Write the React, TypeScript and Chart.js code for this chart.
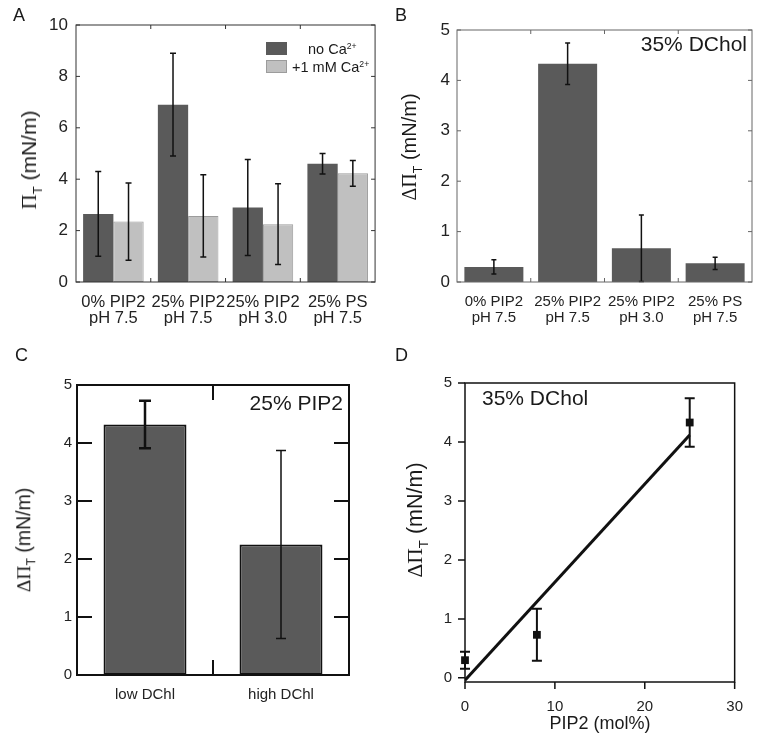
import { useEffect, useRef } from "react";
import { Chart, ChartConfiguration, registerables } from "chart.js";

Chart.register(...registerables);

const SANS = "'Liberation Sans', Arial, sans-serif";
const SERIF = "'Liberation Serif', 'Times New Roman', serif";
Chart.defaults.font.family = SANS;
Chart.defaults.color = "#222";

const DARK = "#5a5a5a";
const LIGHT = "#c0c0c0";

// Panel A - surface pressure with / without calcium
const groupLabels = [
  ["0% PIP2", "pH 7.5"],
  ["25% PIP2", "pH 7.5"],
  ["25% PIP2", "pH 3.0"],
  ["25% PS", "pH 7.5"],
];
const noCaValues = [2.65, 6.9, 2.9, 4.6];
const noCaErrors = [1.65, 2.0, 1.87, 0.4];
const caValues = [2.35, 2.57, 2.25, 4.23];
const caErrors = [1.5, 1.6, 1.57, 0.5];
const yTicksA = [0, 2, 4, 6, 8, 10];

// Panel B - 35% DChol
const dcholValues = [0.3, 4.33, 0.67, 0.37];
const dcholErrors = [0.14, 0.41, 0.66, 0.12];
const yTicksB = [0, 1, 2, 3, 4, 5];

// Panel C - 25% PIP2
const cholLabels = ["low DChl", "high DChl"];
const cholValues = [4.32, 2.25];
const cholErrors = [0.41, 1.62];
const yTicksC = [0, 1, 2, 3, 4, 5];

// Panel D - PIP2 dependence
const pip2Mol = [0, 8, 25];
const pip2Delta = [0.3, 0.73, 4.33];
const pip2Errors = [0.145, 0.44, 0.41];
const fitX = [0, 25];
const fitY = [-0.04, 4.12];
const xTicksD = [0, 10, 20, 30];
const yTicksD = [0, 1, 2, 3, 4, 5];

const pick = (v: any, j: number, d: number) =>
  Array.isArray(v) ? v[j] : v ?? d;

// draws vertical error bars from dataset.errors
const errorBars = {
  id: "errorBars",
  afterDatasetsDraw(chart: Chart) {
    const { ctx } = chart;
    const yScale = chart.scales.y;
    chart.data.datasets.forEach((ds: any, i) => {
      if (!ds.errors) return;
      const meta = chart.getDatasetMeta(i);
      meta.data.forEach((el: any, j) => {
        const raw = ds.data[j];
        const v = typeof raw === "number" ? raw : raw.y;
        const e = ds.errors[j];
        const top = yScale.getPixelForValue(v + e);
        const bot = yScale.getPixelForValue(v - e);
        const cap = pick(ds.capHalf, j, 3);
        ctx.save();
        ctx.strokeStyle = "#111";
        ctx.lineWidth = pick(ds.errorWidth, j, 1.5);
        ctx.beginPath();
        ctx.moveTo(el.x, top);
        ctx.lineTo(el.x, bot);
        ctx.moveTo(el.x - cap, top);
        ctx.lineTo(el.x + cap, top);
        ctx.moveTo(el.x - cap, bot);
        ctx.lineTo(el.x + cap, bot);
        ctx.stroke();
        ctx.restore();
      });
    });
  },
};

// box around the plot with inward / outward tick marks
const frame = {
  id: "frame",
  afterDraw(chart: Chart, _args: any, opts: any) {
    const { ctx, chartArea: a } = chart;
    const xs: any = chart.scales.x;
    const ys: any = chart.scales.y;
    ctx.save();
    ctx.strokeStyle = opts.color;
    ctx.lineWidth = opts.width;
    ctx.strokeRect(a.left, a.top, a.right - a.left, a.bottom - a.top);
    ctx.beginPath();
    const yPix = ys.ticks.map((t: any) => ys.getPixelForValue(t.value));
    if (opts.yIn) {
      yPix.forEach((p: number) => {
        ctx.moveTo(a.left, p);
        ctx.lineTo(a.left + opts.yIn, p);
        ctx.moveTo(a.right, p);
        ctx.lineTo(a.right - opts.yIn, p);
      });
    }
    if (opts.yOut) {
      yPix.forEach((p: number) => {
        ctx.moveTo(a.left, p);
        ctx.lineTo(a.left - opts.yOut, p);
      });
    }
    if (opts.xIn) {
      for (let i = 0; i < xs.ticks.length - 1; i++) {
        const p = (xs.getPixelForValue(i) + xs.getPixelForValue(i + 1)) / 2;
        ctx.moveTo(p, a.top);
        ctx.lineTo(p, a.top + opts.xIn);
        ctx.moveTo(p, a.bottom);
        ctx.lineTo(p, a.bottom - opts.xIn);
      }
    }
    if (opts.xOut) {
      xs.ticks.forEach((t: any) => {
        const p = xs.getPixelForValue(t.value);
        ctx.moveTo(p, a.bottom);
        ctx.lineTo(p, a.bottom + opts.xOut);
      });
    }
    ctx.stroke();
    ctx.restore();
  },
};

const noGrid = { display: false, drawTicks: false };

function useChart(build: () => ChartConfiguration) {
  const canvasRef = useRef<HTMLCanvasElement>(null);
  const chartRef = useRef<Chart | null>(null);
  useEffect(() => {
    if (!canvasRef.current) return;
    const ctx = canvasRef.current.getContext("2d");
    if (!ctx) return;
    if (chartRef.current) chartRef.current.destroy();
    chartRef.current = new Chart(ctx, build());
    return () => {
      if (chartRef.current) {
        chartRef.current.destroy();
        chartRef.current = null;
      }
    };
  }, []);
  return canvasRef;
}

function CalciumChart() {
  const ref = useChart(() => ({
    type: "bar",
    data: {
      labels: groupLabels,
      datasets: [
        {
          label: "no Ca2+",
          data: noCaValues,
          errors: noCaErrors,
          backgroundColor: DARK,
          borderWidth: 0,
          capHalf: 3,
        } as any,
        {
          label: "+1 mM Ca2+",
          data: caValues,
          errors: caErrors,
          backgroundColor: LIGHT,
          borderColor: "#9c9c9c",
          borderWidth: 1,
          borderSkipped: false,
          capHalf: 3,
        } as any,
      ],
    },
    options: {
      responsive: false,
      animation: false,
      layout: { padding: { left: 0, right: 4, top: 25, bottom: 0 } },
      datasets: { bar: { categoryPercentage: 0.81, barPercentage: 1 } },
      scales: {
        x: {
          grid: noGrid,
          border: { display: false },
          ticks: { padding: 12, autoSkip: false, maxRotation: 0, font: { size: 16.5, lineHeight: 1 } },
          afterFit: (s: any) => { s.height = 48; },
        },
        y: {
          min: 0,
          max: 10,
          grid: noGrid,
          border: { display: false },
          ticks: { padding: 8, font: { size: 17 } },
          afterBuildTicks: (s: any) => { s.ticks = yTicksA.map((value) => ({ value })); },
          afterFit: (s: any) => { s.width = 76; },
        },
      },
      plugins: {
        legend: { display: false },
        tooltip: { enabled: false },
        frame: { color: "#333", width: 1, yIn: 4, xIn: 4 },
      } as any,
    },
    plugins: [errorBars, frame],
  }));
  return <canvas ref={ref} width={380} height={330} />;
}

function DcholChart() {
  const ref = useChart(() => ({
    type: "bar",
    data: {
      labels: groupLabels,
      datasets: [
        {
          label: "35% DChol",
          data: dcholValues,
          errors: dcholErrors,
          backgroundColor: DARK,
          borderWidth: 0,
          capHalf: 2.5,
        } as any,
      ],
    },
    options: {
      responsive: false,
      animation: false,
      layout: { padding: { left: 0, right: 7, top: 30, bottom: 0 } },
      datasets: { bar: { categoryPercentage: 0.8, barPercentage: 1 } },
      scales: {
        x: {
          grid: noGrid,
          border: { display: false },
          ticks: { padding: 12, autoSkip: false, maxRotation: 0, font: { size: 15, lineHeight: 1.07 } },
          afterFit: (s: any) => { s.height = 48; },
        },
        y: {
          min: 0,
          max: 5,
          grid: noGrid,
          border: { display: false },
          ticks: { padding: 7, font: { size: 17 } },
          afterBuildTicks: (s: any) => { s.ticks = yTicksB.map((value) => ({ value })); },
          afterFit: (s: any) => { s.width = 77; },
        },
      },
      plugins: {
        legend: { display: false },
        tooltip: { enabled: false },
        frame: { color: "#666", width: 1, yIn: 4, xIn: 4 },
      } as any,
    },
    plugins: [errorBars, frame],
  }));
  return <canvas ref={ref} width={379} height={330} />;
}

function CholesterolChart() {
  const ref = useChart(() => ({
    type: "bar",
    data: {
      labels: cholLabels,
      datasets: [
        {
          label: "25% PIP2",
          data: cholValues,
          errors: cholErrors,
          backgroundColor: DARK,
          borderColor: "#111",
          borderWidth: 2,
          borderSkipped: false,
          errorWidth: [2.5, 1.5],
          capHalf: [6, 5],
        } as any,
      ],
    },
    options: {
      responsive: false,
      animation: false,
      layout: { padding: { left: 0, right: 31, top: 55, bottom: 0 } },
      datasets: { bar: { categoryPercentage: 0.61, barPercentage: 1 } },
      scales: {
        x: {
          grid: noGrid,
          border: { display: false },
          ticks: { padding: 11, autoSkip: false, maxRotation: 0, font: { size: 15 } },
          afterFit: (s: any) => { s.height = 75; },
        },
        y: {
          min: 0,
          max: 5,
          grid: noGrid,
          border: { display: false },
          ticks: { padding: 5, font: { size: 15 } },
          afterBuildTicks: (s: any) => { s.ticks = yTicksC.map((value) => ({ value })); },
          afterFit: (s: any) => { s.width = 77; },
        },
      },
      plugins: {
        legend: { display: false },
        tooltip: { enabled: false },
        frame: { color: "#111", width: 2, yIn: 15, xIn: 15 },
      } as any,
    },
    plugins: [errorBars, frame],
  }));
  return <canvas ref={ref} width={380} height={420} />;
}

function Pip2Chart() {
  const ref = useChart(() => ({
    type: "scatter",
    data: {
      datasets: [
        {
          label: "35% DChol",
          data: pip2Mol.map((x, i) => ({ x, y: pip2Delta[i] })),
          errors: pip2Errors,
          pointStyle: "rect",
          pointRadius: 5.5,
          backgroundColor: "#111",
          borderWidth: 0,
          clip: false,
          errorWidth: 2,
          capHalf: 5,
        } as any,
        {
          label: "fit",
          data: fitX.map((x, i) => ({ x, y: fitY[i] })),
          showLine: true,
          borderColor: "#111",
          borderWidth: 3,
          pointRadius: 0,
        } as any,
      ],
    },
    options: {
      responsive: false,
      animation: false,
      layout: { padding: { left: 0, right: 23, top: 53, bottom: 0 } },
      scales: {
        x: {
          type: "linear",
          min: 0,
          max: 30,
          grid: noGrid,
          border: { display: false },
          ticks: { padding: 16, font: { size: 15 } },
          afterBuildTicks: (s: any) => { s.ticks = xTicksD.map((value) => ({ value })); },
          afterFit: (s: any) => { s.height = 68; },
        },
        y: {
          min: -0.07,
          max: 5,
          grid: noGrid,
          border: { display: false },
          ticks: { padding: 13, font: { size: 15 } },
          afterBuildTicks: (s: any) => { s.ticks = yTicksD.map((value) => ({ value })); },
          afterFit: (s: any) => { s.width = 85; },
        },
      },
      plugins: {
        legend: { display: false },
        tooltip: { enabled: false },
        frame: { color: "#111", width: 1.5, yOut: 7, xOut: 7 },
      } as any,
    },
    plugins: [errorBars, frame],
  }));
  return <canvas ref={ref} width={379} height={420} />;
}

function Text({ x, y, size, align = "left", children }: any) {
  const tx = align === "left" ? "0" : align === "right" ? "-100%" : "-50%";
  return (
    <div
      style={{
        position: "absolute",
        left: x,
        top: y,
        fontSize: size,
        lineHeight: 1,
        whiteSpace: "nowrap",
        transform: `translate(${tx}, -50%)`,
      }}
    >
      {children}
    </div>
  );
}

function YTitle({ x, y, size, delta }: any) {
  return (
    <div
      style={{
        position: "absolute",
        left: x,
        top: y,
        fontSize: size,
        lineHeight: 1,
        whiteSpace: "nowrap",
        transform: "translate(-50%, -50%) rotate(-90deg)",
      }}
    >
      <span style={{ fontFamily: SERIF }}>{delta ? "ΔΠ" : "Π"}</span>
      <span style={{ fontSize: "0.62em", position: "relative", top: "0.45em" }}>T</span>
      {" (mN/m)"}
    </div>
  );
}

const sup = (t: string) => (
  <sup style={{ fontSize: "0.6em", verticalAlign: "0.6em", lineHeight: 0 }}>{t}</sup>
);

const box = (left: number, top: number, width: number, height: number) => ({
  position: "absolute" as const,
  left,
  top,
  width,
  height,
});

export default function App() {
  return (
    <div
      style={{
        position: "absolute",
        left: 0,
        top: 0,
        width: 759,
        height: 750,
        background: "#fff",
        fontFamily: SANS,
        color: "#1a1a1a",
        overflow: "hidden",
      }}
    >
      <div style={box(0, 0, 380, 330)}>
        <CalciumChart />
      </div>
      <div style={box(380, 0, 379, 330)}>
        <DcholChart />
      </div>
      <div style={box(0, 330, 380, 420)}>
        <CholesterolChart />
      </div>
      <div style={box(380, 330, 379, 420)}>
        <Pip2Chart />
      </div>

      <Text x={13} y={15} size={18}>A</Text>
      <Text x={395} y={15} size={18}>B</Text>
      <Text x={15} y={355} size={18}>C</Text>
      <Text x={395} y={355} size={18}>D</Text>

      <YTitle x={29} y={160} size={21} />
      <YTitle x={409} y={147} size={20} delta />
      <YTitle x={24} y={540} size={19.5} delta />
      <YTitle x={416} y={520} size={21.5} delta />

      <div style={{ ...box(266, 42, 21, 13), background: DARK }} />
      <div style={{ ...box(266, 60, 21, 13), background: LIGHT, boxSizing: "border-box", border: "1px solid #9c9c9c" }} />
      <Text x={308} y={49} size={14.5}>no Ca{sup("2+")}</Text>
      <Text x={292} y={67} size={14.5}>+1 mM Ca{sup("2+")}</Text>

      <Text x={747} y={43} size={21} align="right">35% DChol</Text>
      <Text x={343} y={402} size={21} align="right">25% PIP2</Text>
      <Text x={482} y={397} size={21}>35% DChol</Text>
      <Text x={600} y={723} size={18} align="center">PIP2 (mol%)</Text>
    </div>
  );
}
